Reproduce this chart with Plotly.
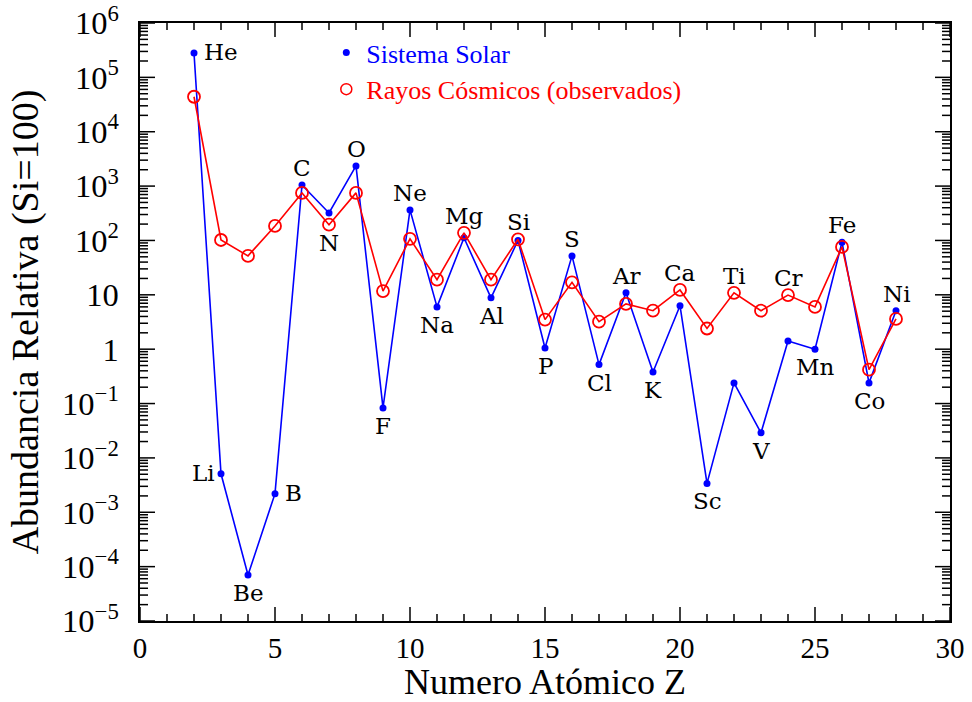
import math
import plotly.graph_objects as go

# ---- data ----
Z = list(range(2, 29))
elements = ["He", "Li", "Be", "B", "C", "N", "O", "F", "Ne", "Na", "Mg", "Al", "Si", "P",
            "S", "Cl", "Ar", "K", "Ca", "Sc", "Ti", "V", "Cr", "Mn", "Fe", "Co", "Ni"]
solar = [2.8e5, 5.1e-3, 7e-5, 2.2e-3, 1050, 320, 2350, 0.083, 365, 6.0, 112, 8.8, 100, 1.05,
         52, 0.52, 10.9, 0.38, 6.3, 3.4e-3, 0.24, 0.029, 1.42, 1.0, 93, 0.24, 5.1]
cosmic = [4.4e4, 102, 52, 185, 750, 195, 750, 11.7, 107, 19, 138, 19, 105, 3.5,
          17, 3.2, 6.8, 5.1, 12.3, 2.4, 10.9, 5.1, 9.9, 6.0, 76, 0.42, 3.6]
label_pos = ["right", "left", "below", "right", "above", "below", "above", "below", "above",
             "below", "above", "below", "above", "below", "above", "below", "above", "below",
             "above", "below", "above", "below", "above", "below", "above", "below", "above"]
x_major_ticks = [0, 5, 10, 15, 20, 25, 30]
x_minor_ticks = list(range(0, 31))
y_decades = list(range(-5, 7))

X_RANGE = [0, 30]
Y_RANGE = [-5, 6]  # log10

BLUE = "#0000ff"
RED = "#ff0000"
SERIF = "Liberation Serif"
LABF = "DejaVu Serif"

W, H = 972, 702
M = dict(l=140, r=22, t=23, b=81)
px_per_x = (W - M["l"] - M["r"]) / (X_RANGE[1] - X_RANGE[0])
px_per_dec = (H - M["t"] - M["b"]) / (Y_RANGE[1] - Y_RANGE[0])

fig = go.Figure()

# inside tick marks on all four sides (drawn as line traces in axis units)
tx, ty = [], []
for v in x_minor_ticks:
    L = (14 if v in x_major_ticks else 7) / px_per_dec
    tx += [v, v, None, v, v, None]
    ty += [10 ** Y_RANGE[0], 10 ** (Y_RANGE[0] + L), None,
           10 ** Y_RANGE[1], 10 ** (Y_RANGE[1] - L), None]
for d in y_decades:
    for m in range(1, 10):
        if d == Y_RANGE[1] and m > 1:
            break
        L = (15 if m == 1 else 8) / px_per_x
        val = m * 10.0 ** d
        tx += [X_RANGE[0], X_RANGE[0] + L, None, X_RANGE[1], X_RANGE[1] - L, None]
        ty += [val, val, None, val, val, None]
fig.add_trace(go.Scatter(x=tx, y=ty, mode="lines", showlegend=False, hoverinfo="skip",
                         line=dict(color="black", width=1.5), cliponaxis=False))

fig.add_trace(go.Scatter(x=Z, y=solar, mode="lines+markers", showlegend=False,
                         line=dict(color=BLUE, width=1.6),
                         marker=dict(color=BLUE, size=7, symbol="circle")))
fig.add_trace(go.Scatter(x=Z, y=cosmic, mode="lines+markers", showlegend=False,
                         line=dict(color=RED, width=1.6),
                         marker=dict(color=RED, size=12, symbol="circle-open",
                                     line=dict(color=RED, width=1.8))))
# legend entries (markers only)
fig.add_trace(go.Scatter(x=[None], y=[None], mode="markers",
                         name='<span style="color:#0000ff">Sistema Solar</span>',
                         marker=dict(color=BLUE, size=7)))
fig.add_trace(go.Scatter(x=[None], y=[None], mode="markers",
                         name='<span style="color:#ff0000">Rayos Cósmicos (observados)</span>',
                         marker=dict(color=RED, size=11, symbol="circle-open",
                                     line=dict(color=RED, width=1.5))))

for z, el, s, c, p in zip(Z, elements, solar, cosmic, label_pos):
    ann = dict(x=z, text=el, showarrow=False, font=dict(family=LABF, size=23, color="black"))
    if p == "above":
        ann.update(y=max(s, c), yanchor="bottom", yshift=2)
    elif p == "below":
        ann.update(y=min(s, c), yanchor="top", yshift=-3)
    elif p == "right":
        ann.update(y=s, xanchor="left", xshift=8, yshift=1)
    else:
        ann.update(y=s, xanchor="right", xshift=-4, yshift=1)
    ann["y"] = math.log10(ann["y"])
    fig.add_annotation(**ann)

fig.update_layout(
    width=W, height=H, margin=M,
    paper_bgcolor="white", plot_bgcolor="white",
    xaxis=dict(range=X_RANGE, tickmode="linear", tick0=0, dtick=5, ticks="",
               showline=True, linewidth=2, linecolor="black",
               mirror=True, showgrid=False, zeroline=False, automargin=False,
               tickfont=dict(family=SERIF, size=29, color="black"),
               title=dict(text="Numero Atómico Z", font=dict(family=SERIF, size=36, color="black"),
                          standoff=14)),
    yaxis=dict(type="log", range=Y_RANGE, tickmode="linear", tick0=0, dtick=1,
               exponentformat="power", ticklabeloverflow="allow", ticks="",
               showline=True, linewidth=2, linecolor="black", mirror=True,
               showgrid=False, zeroline=False, automargin=False,
               ticklabelstandoff=14,
               tickfont=dict(family=SERIF, size=26, color="black"),
               title=dict(text="Abundancia Relativa (Si=100)",
                          font=dict(family=SERIF, size=38, color="black"), standoff=12)),
    legend=dict(x=0.23, y=0.99, xanchor="left", yanchor="top",
                bgcolor="rgba(0,0,0,0)", font=dict(family=SERIF, size=26),
                itemwidth=30, tracegroupgap=0))
fig.write_html("out.html")
